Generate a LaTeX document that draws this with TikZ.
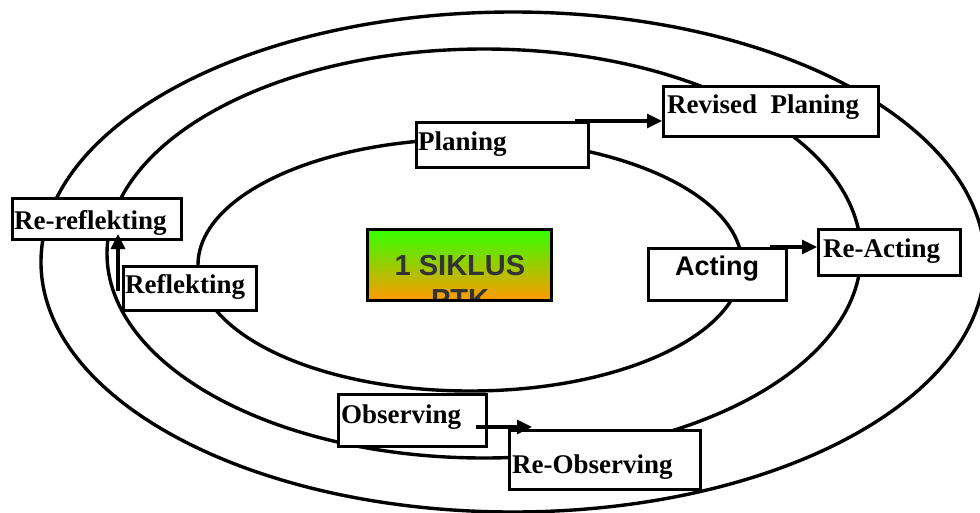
\documentclass[tikz,border=0pt]{standalone}
\usepackage{fontspec}
\newfontfamily\tnr{Liberation Serif}
\newfontfamily\arl{Liberation Sans}
\usetikzlibrary{arrows.meta,calc}
\begin{document}
\begin{tikzpicture}[x=1pt,y=-1pt,
  ring/.style={line width=3.4pt},
  box/.style={draw, line width=3.4pt, fill=white, rectangle, inner sep=0pt},
  lbl/.style={anchor=base west, inner sep=0pt, font=\tnr\bfseries\fontsize{27}{30}\selectfont},
  albl/.style={anchor=base west, inner sep=0pt, font=\arl\bfseries\fontsize{27}{30}\selectfont},
  ctr/.style={anchor=base, inner sep=0pt, text=black!80, font=\arl\bfseries\fontsize{29}{35}\selectfont},
  arr/.style={line width=3.2pt, -{Triangle[length=15pt,width=14pt]}}]
\useasboundingbox (0,0) rectangle (980,512);
% rings
\draw[ring] (513,262) ellipse [x radius=472, y radius=250];
\draw[ring] (484,253.5) ellipse [x radius=377, y radius=204.5];
\draw[ring] (470,265) ellipse [x radius=272, y radius=126];
% boxes
\node[box, minimum width=168.6, minimum height=40.6] (rerefl) at (97,219) {};
\node[box, minimum width=132.6, minimum height=43.6] (refl) at (190,288.5) {};
\node[box, minimum width=171.6, minimum height=44.6] (plan) at (502.5,145) {};
\node[box, minimum width=214.6, minimum height=49.6] (revplan) at (771,111.5) {};
\node[box, minimum width=137.6, minimum height=51.6] (act) at (717.5,274.5) {};
\node[box, minimum width=141.6, minimum height=45.6] (react) at (889.5,252.5) {};
\node[box, minimum width=147.6, minimum height=51.6] (obs) at (412.5,420.5) {};
\node[box, minimum width=190.6, minimum height=58.6] (reobs) at (605,460) {};
% centre box
\node[rectangle, inner sep=0pt, minimum width=183.6, minimum height=70.6,
      top color={rgb,255:red,51;green,255;blue,0}, bottom color={rgb,255:red,255;green,153;blue,0}] (siklus) at (459.5,265) {};
\begin{scope}
  \clip (siklus.south west) rectangle (siklus.north east);
  \node[ctr] (t0) at (460,275) {1 SIKLUS};
  \node[ctr] (t0b) at (460,309) {PTK};
\end{scope}
\draw[line width=3.4pt] (siklus.south west) rectangle (siklus.north east);
% labels
\node[lbl] (t1) at (14,229) {Re-reflekting};
\node[lbl] (t2) at (125,293) {Reflekting};
\node[lbl] (t3) at (418,150) {Planing};
\node[lbl] (t4) at (667,113) {Revised~~Planing};
\node[albl] (t5) at (675,275) {Acting};
\node[lbl] (t6) at (823,257) {Re-Acting};
\node[lbl] (t7) at (341,423) {Observing};
\node[lbl] (t8) at (512,473) {Re-Observing};
% arrows
\draw[arr] ($(plan.north east)+(-15,0)$) -- (revplan.west |- plan.north east);
\draw[arr] ($(act.north east)+(-18,0)$) -- (react.west |- act.north east);
\coordinate (os) at ($(obs.east)+(-12,6.5)$);
\coordinate (oe) at ($(reobs.north west)+(24,0)$);
\draw[arr] (os) -- (oe |- os);
\coordinate (rs) at ($(refl.west)+(-4,2)$);
\coordinate (re) at ($(rerefl.south)+(0,-7)$);
\draw[arr] (rs) -- (rs |- re);
\end{tikzpicture}
\end{document}
